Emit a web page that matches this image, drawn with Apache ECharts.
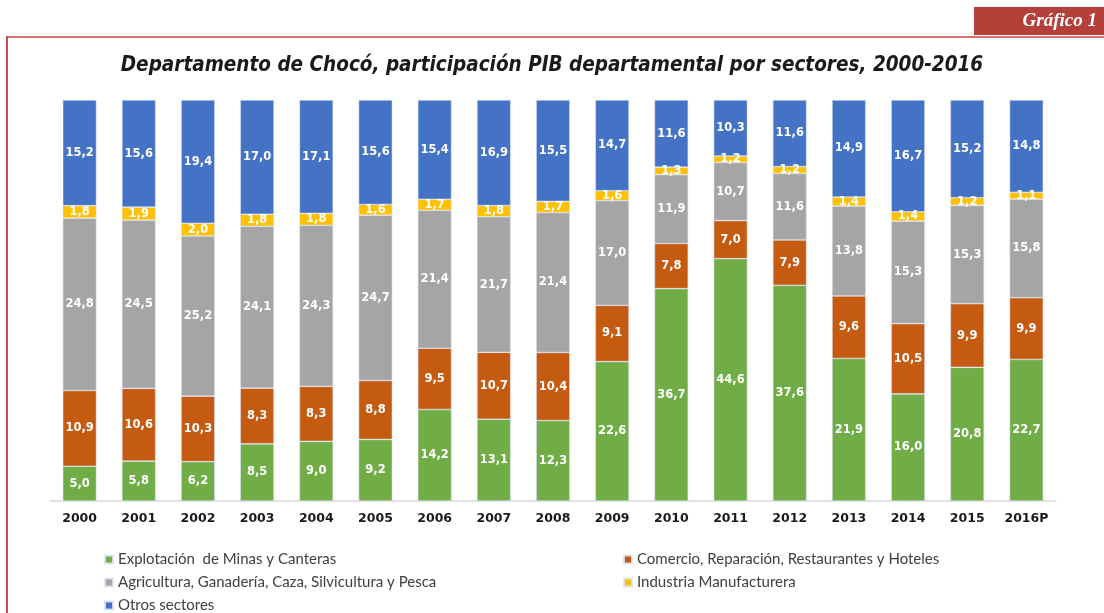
<!DOCTYPE html>
<html>
<head>
<meta charset="utf-8">
<script src="https://cdn.jsdelivr.net/npm/echarts@6/dist/echarts.min.js"></script>
<style>
html,body{margin:0;padding:0;background:#fff;}
#c{width:1104px;height:613px;}
</style>
</head>
<body>
<div id="c"></div>
<script>
const years = ['2000','2001','2002','2003','2004','2005','2006','2007','2008','2009','2010','2011','2012','2013','2014','2015','2016P'];
const seriesNames = [
  'Explotación  de Minas y Canteras',
  'Comercio, Reparación, Restaurantes y Hoteles',
  'Agricultura, Ganadería, Caza, Silvicultura y Pesca',
  'Industria Manufacturera',
  'Otros sectores'
];
const mineria   = [5.0,5.8,6.2,8.5,9.0,9.2,14.2,13.1,12.3,22.6,36.7,44.6,37.6,21.9,16.0,20.8,22.7];
const comercio  = [10.9,10.6,10.3,8.3,8.3,8.8,9.5,10.7,10.4,9.1,7.8,7.0,7.9,9.6,10.5,9.9,9.9];
const agricultura = [24.8,24.5,25.2,24.1,24.3,24.7,21.4,21.7,21.4,17.0,11.9,10.7,11.6,13.8,15.3,15.3,15.8];
const industria = [1.8,1.9,2.0,1.8,1.8,1.6,1.7,1.8,1.7,1.6,1.3,1.2,1.2,1.4,1.4,1.2,1.1];
const otros     = [15.2,15.6,19.4,17.0,17.1,15.6,15.4,16.9,15.5,14.7,11.6,10.3,11.6,14.9,16.7,15.2,14.8];
const colors = ['#70AD47','#C55A11','#A5A5A5','#FFC000','#4472C4'];

const raw = [mineria, comercio, agricultura, industria, otros];
const totals = years.map((_, i) => raw.reduce((s, arr) => s + arr[i], 0));

const series = raw.map((arr, k) => ({
  name: seriesNames[k],
  type: 'bar',
  stack: 'total',
  barWidth: '57%',
  itemStyle: { color: colors[k], borderColor: 'rgba(220,228,245,0.9)', borderWidth: 0.6 },
  label: {
    show: true,
    position: 'inside',
    color: '#fff',
    fontFamily: 'DejaVu Sans',
    fontWeight: 'bold',
    fontSize: 11.5,
    formatter: p => arr[p.dataIndex].toFixed(1).replace('.', ',')
  },
  data: arr.map((v, i) => v / totals[i] * 100)
}));

const legendText = { color: '#404040', fontFamily: 'Liberation Sans Narrow, Lato, sans-serif', fontSize: 15 };
const legendBase = { orient: 'vertical', top: 552, height: 70, padding: 0, itemWidth: 8, itemHeight: 8, itemGap: 8, icon: 'rect', textStyle: legendText };
const chart = echarts.init(document.getElementById('c'));
chart.setOption({
  animation: false,
  color: colors,
  title: {
    text: 'Departamento de Chocó, participación PIB departamental por sectores, 2000-2016',
    left: 'center',
    top: 51,
    textStyle: { fontFamily: 'Liberation Sans Narrow, DejaVu Sans Condensed, sans-serif', fontStyle: 'italic', fontWeight: 'bold', fontSize: 20.5, color: '#1a1a1a' }
  },
  grid: { left: 50, right: 48, top: 100, bottom: 112 },
  xAxis: {
    type: 'category',
    data: years,
    axisLine: { lineStyle: { color: '#d9d9d9', width: 1.5 } },
    axisTick: { show: false },
    axisLabel: { interval: 0, color: '#1a1a1a', fontFamily: 'DejaVu Sans', fontWeight: 'bold', fontSize: 12.5, margin: 11 }
  },
  yAxis: { type: 'value', min: 0, max: 100, show: false, splitLine: { show: false } },
  legend: [
    Object.assign({ data: [seriesNames[0], seriesNames[2], seriesNames[4]], left: 104 }, legendBase),
    Object.assign({ data: [seriesNames[1], seriesNames[3]], left: 623 }, legendBase)
  ],
  graphic: [
    { type: 'rect', shape: { x: 974, y: 7, width: 130, height: 28 }, style: { fill: '#B5403A' } },
    { type: 'text', x: 1097, y: 21, style: { text: 'Gráfico 1', fill: '#fff', font: 'italic bold 19px "Liberation Serif", "DejaVu Serif", serif', textAlign: 'right', textVerticalAlign: 'middle' } },
    { type: 'line', shape: { x1: 7, y1: 37, x2: 1104, y2: 37 }, style: { stroke: '#D0736C', lineWidth: 2 } },
    { type: 'line', shape: { x1: 7, y1: 36, x2: 7, y2: 613 }, style: { stroke: '#C0504D', lineWidth: 2 } }
  ],
  series: series
});
</script>
</body>
</html>
